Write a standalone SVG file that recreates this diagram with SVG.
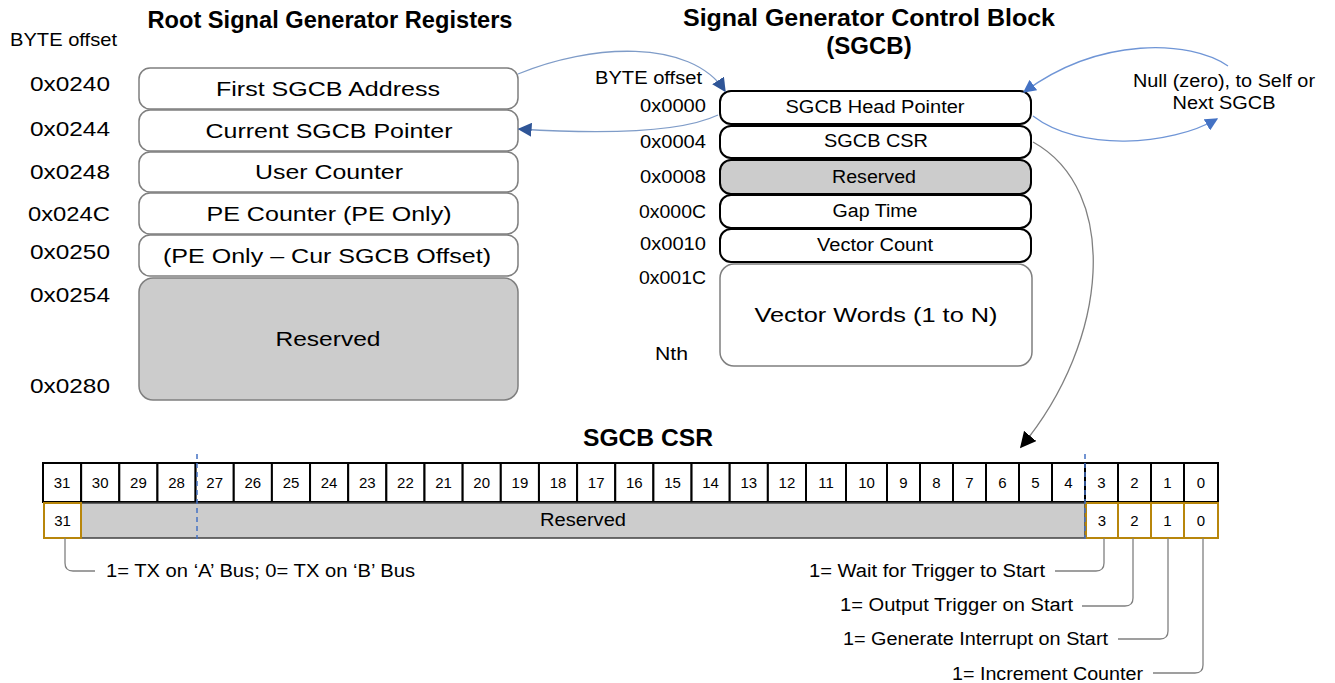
<svg xmlns="http://www.w3.org/2000/svg" width="1335" height="683" viewBox="0 0 1335 683">
<defs>
<style>
text{font-family:"Liberation Sans",Arial,sans-serif;fill:#000}
.t{font-size:24px;font-weight:bold;text-anchor:middle}
.off{font-size:21px}
.offr{font-size:18px;text-anchor:end}
.bx{font-size:21px;text-anchor:middle}
.sb{font-size:18px;text-anchor:middle}
.bn{font-size:15px;text-anchor:middle}
.lb{font-size:18px}
.lbr{font-size:18px;text-anchor:end}
.rl{fill:#fff;stroke:#7f7f7f;stroke-width:1.5}
.rlg{fill:#cccccc;stroke:#7f7f7f;stroke-width:1.5}
.rs{fill:#fff;stroke:#000;stroke-width:2}
.rsg{fill:#cccccc;stroke:#000;stroke-width:2}
.cell{fill:#fff;stroke:#000;stroke-width:2}
.gold{fill:#fff;stroke:#b8860b;stroke-width:2}
.lead{fill:none;stroke:#808080;stroke-width:1.3}
.blue1{fill:none;stroke:#7f9cc8;stroke-width:1.3}
.blue2{fill:none;stroke:#6f95d6;stroke-width:1.3}
.dash{stroke:#4472c4;stroke-width:1.5;stroke-dasharray:5,4}
</style>
<marker id="ahd" viewBox="0 0 10 10" refX="9" refY="5" markerWidth="14" markerHeight="14" markerUnits="userSpaceOnUse" orient="auto"><path d="M0,0 L10,5 L0,10 z" fill="#2f5597"/></marker>
<marker id="ahl" viewBox="0 0 10 10" refX="9" refY="5" markerWidth="13" markerHeight="13" markerUnits="userSpaceOnUse" orient="auto"><path d="M0,0 L10,5 L0,10 z" fill="#4472c4"/></marker>
<marker id="ahk" viewBox="0 0 10 10" refX="9" refY="5" markerWidth="16" markerHeight="16" markerUnits="userSpaceOnUse" orient="auto"><path d="M0,0 L10,5 L0,10 z" fill="#000"/></marker>
</defs>
<rect width="1335" height="683" fill="#fff"/>

<g id="titles">
<text class="t" x="330" y="28" textLength="365" lengthAdjust="spacingAndGlyphs">Root Signal Generator Registers</text>
<text class="t" x="869" y="26" textLength="372" lengthAdjust="spacingAndGlyphs">Signal Generator Control Block</text>
<text class="t" x="869" y="54">(SGCB)</text>
<text class="t" x="648" y="446" textLength="130" lengthAdjust="spacingAndGlyphs">SGCB CSR</text>
</g>

<g id="root-offsets">
<text class="off" x="10" y="46" style="font-size:19px" textLength="107" lengthAdjust="spacingAndGlyphs">BYTE offset</text>
<text class="off" x="30" y="91" textLength="80" lengthAdjust="spacingAndGlyphs">0x0240</text>
<text class="off" x="30" y="136" textLength="80" lengthAdjust="spacingAndGlyphs">0x0244</text>
<text class="off" x="30" y="179" textLength="80" lengthAdjust="spacingAndGlyphs">0x0248</text>
<text class="off" x="28" y="221" textLength="82" lengthAdjust="spacingAndGlyphs">0x024C</text>
<text class="off" x="30" y="259" textLength="80" lengthAdjust="spacingAndGlyphs">0x0250</text>
<text class="off" x="30" y="302" textLength="80" lengthAdjust="spacingAndGlyphs">0x0254</text>
<text class="off" x="30" y="393" textLength="80" lengthAdjust="spacingAndGlyphs">0x0280</text>
</g>

<g id="root-first">
<rect class="rl" x="139" y="68" width="379" height="41" rx="11"/>
<text class="bx" x="328" y="96" textLength="224" lengthAdjust="spacingAndGlyphs">First SGCB Address</text>
</g>
<g id="root-current">
<rect class="rl" x="139" y="110" width="379" height="41" rx="11"/>
<text class="bx" x="329" y="138" textLength="247" lengthAdjust="spacingAndGlyphs">Current SGCB Pointer</text>
</g>
<g id="root-user">
<rect class="rl" x="139" y="152" width="379" height="40" rx="11"/>
<text class="bx" x="329" y="179" textLength="148" lengthAdjust="spacingAndGlyphs">User Counter</text>
</g>
<g id="root-pe">
<rect class="rl" x="139" y="193" width="379" height="41" rx="11"/>
<text class="bx" x="329" y="221" textLength="245" lengthAdjust="spacingAndGlyphs">PE Counter (PE Only)</text>
</g>
<g id="root-peoff">
<rect class="rl" x="139" y="235" width="379" height="41" rx="11"/>
<text class="bx" x="327" y="263" textLength="328" lengthAdjust="spacingAndGlyphs">(PE Only – Cur SGCB Offset)</text>
</g>
<g id="root-reserved">
<rect class="rlg" x="139" y="278" width="379" height="122" rx="14"/>
<text class="bx" x="328" y="346" textLength="105" lengthAdjust="spacingAndGlyphs">Reserved</text>
</g>

<g id="sgcb-offsets">
<text class="offr" x="702" y="84" style="font-size:18px" textLength="107" lengthAdjust="spacingAndGlyphs">BYTE offset</text>
<text class="offr" x="706" y="112" textLength="66" lengthAdjust="spacingAndGlyphs">0x0000</text>
<text class="offr" x="706" y="148" textLength="66" lengthAdjust="spacingAndGlyphs">0x0004</text>
<text class="offr" x="706" y="183" textLength="66" lengthAdjust="spacingAndGlyphs">0x0008</text>
<text class="offr" x="706" y="218" textLength="67" lengthAdjust="spacingAndGlyphs">0x000C</text>
<text class="offr" x="706" y="250" textLength="66" lengthAdjust="spacingAndGlyphs">0x0010</text>
<text class="offr" x="706" y="284" textLength="67" lengthAdjust="spacingAndGlyphs">0x001C</text>
<text class="offr" x="688" y="360" textLength="33" lengthAdjust="spacingAndGlyphs">Nth</text>
</g>

<g id="sgcb-head">
<rect class="rs" x="720" y="91" width="311" height="33" rx="11"/>
<text class="sb" x="875" y="113" textLength="179" lengthAdjust="spacingAndGlyphs">SGCB Head Pointer</text>
</g>
<g id="sgcb-csr">
<rect class="rs" x="720" y="126" width="311" height="32" rx="11"/>
<text class="sb" x="876" y="147" textLength="104" lengthAdjust="spacingAndGlyphs">SGCB CSR</text>
</g>
<g id="sgcb-reserved">
<rect class="rsg" x="720" y="160" width="311" height="34" rx="11"/>
<text class="sb" x="874" y="183" textLength="84" lengthAdjust="spacingAndGlyphs">Reserved</text>
</g>
<g id="sgcb-gap">
<rect class="rs" x="720" y="195" width="311" height="33" rx="11"/>
<text class="sb" x="875" y="217" textLength="85" lengthAdjust="spacingAndGlyphs">Gap Time</text>
</g>
<g id="sgcb-count">
<rect class="rs" x="720" y="229" width="311" height="33" rx="11"/>
<text class="sb" x="875" y="251" textLength="116" lengthAdjust="spacingAndGlyphs">Vector Count</text>
</g>
<g id="sgcb-vectors">
<rect class="rl" x="720" y="264" width="312" height="102" rx="14"/>
<text class="sb" x="876" y="322" style="font-size:21px" textLength="243" lengthAdjust="spacingAndGlyphs">Vector Words (1 to N)</text>
</g>

<g id="null-label">
<text class="sb" x="1224" y="87" textLength="182" lengthAdjust="spacingAndGlyphs">Null (zero), to Self or</text>
<text class="sb" x="1224" y="109" textLength="103" lengthAdjust="spacingAndGlyphs">Next SGCB</text>
</g>

<g id="csr-table">
<g id="bits-row">
<rect class="cell" x="43" y="463" width="38.15" height="39"/><text class="bn" x="62.1" y="488">31</text>
<rect class="cell" x="81.15" y="463" width="38.15" height="39"/><text class="bn" x="100.2" y="488">30</text>
<rect class="cell" x="119.3" y="463" width="38.15" height="39"/><text class="bn" x="138.4" y="488">29</text>
<rect class="cell" x="157.45" y="463" width="38.15" height="39"/><text class="bn" x="176.5" y="488">28</text>
<rect class="cell" x="195.6" y="463" width="38.15" height="39"/><text class="bn" x="214.7" y="488">27</text>
<rect class="cell" x="233.75" y="463" width="38.15" height="39"/><text class="bn" x="252.8" y="488">26</text>
<rect class="cell" x="271.9" y="463" width="38.15" height="39"/><text class="bn" x="291" y="488">25</text>
<rect class="cell" x="310.05" y="463" width="38.15" height="39"/><text class="bn" x="329.1" y="488">24</text>
<rect class="cell" x="348.2" y="463" width="38.15" height="39"/><text class="bn" x="367.3" y="488">23</text>
<rect class="cell" x="386.35" y="463" width="38.15" height="39"/><text class="bn" x="405.4" y="488">22</text>
<rect class="cell" x="424.5" y="463" width="38.15" height="39"/><text class="bn" x="443.6" y="488">21</text>
<rect class="cell" x="462.65" y="463" width="38.15" height="39"/><text class="bn" x="481.7" y="488">20</text>
<rect class="cell" x="500.8" y="463" width="38.15" height="39"/><text class="bn" x="519.9" y="488">19</text>
<rect class="cell" x="538.95" y="463" width="38.15" height="39"/><text class="bn" x="558" y="488">18</text>
<rect class="cell" x="577.1" y="463" width="38.15" height="39"/><text class="bn" x="596.2" y="488">17</text>
<rect class="cell" x="615.25" y="463" width="38.15" height="39"/><text class="bn" x="634.3" y="488">16</text>
<rect class="cell" x="653.4" y="463" width="38.15" height="39"/><text class="bn" x="672.5" y="488">15</text>
<rect class="cell" x="691.55" y="463" width="38.15" height="39"/><text class="bn" x="710.6" y="488">14</text>
<rect class="cell" x="729.7" y="463" width="38.15" height="39"/><text class="bn" x="748.8" y="488">13</text>
<rect class="cell" x="767.85" y="463" width="38.15" height="39"/><text class="bn" x="786.9" y="488">12</text>
<rect class="cell" x="806" y="463" width="40" height="39"/><text class="bn" x="826" y="488">11</text>
<rect class="cell" x="846" y="463" width="41" height="39"/><text class="bn" x="866.5" y="488">10</text>
<rect class="cell" x="887" y="463" width="33" height="39"/><text class="bn" x="903.5" y="488">9</text>
<rect class="cell" x="920" y="463" width="33" height="39"/><text class="bn" x="936.5" y="488">8</text>
<rect class="cell" x="953" y="463" width="33" height="39"/><text class="bn" x="969.5" y="488">7</text>
<rect class="cell" x="986" y="463" width="33" height="39"/><text class="bn" x="1002.5" y="488">6</text>
<rect class="cell" x="1019" y="463" width="33" height="39"/><text class="bn" x="1035.5" y="488">5</text>
<rect class="cell" x="1052" y="463" width="33" height="39"/><text class="bn" x="1068.5" y="488">4</text>
<rect class="cell" x="1085" y="463" width="33" height="39"/><text class="bn" x="1101.5" y="488">3</text>
<rect class="cell" x="1118" y="463" width="33" height="39"/><text class="bn" x="1134.5" y="488">2</text>
<rect class="cell" x="1151" y="463" width="33" height="39"/><text class="bn" x="1167.5" y="488">1</text>
<rect class="cell" x="1184" y="463" width="34" height="39"/><text class="bn" x="1201" y="488">0</text>
</g>
<g id="fields-row">
<rect x="81" y="503" width="1004" height="35" fill="#cccccc" stroke="#404040" stroke-width="1.5"/>
<text class="bn" x="583" y="526" style="font-size:18px" textLength="86" lengthAdjust="spacingAndGlyphs">Reserved</text>
<rect class="gold" x="44" y="503" width="37" height="35"/><text class="bn" x="62.5" y="526">31</text>
<rect class="gold" x="1086" y="503" width="32" height="35"/><text class="bn" x="1102" y="526">3</text>
<rect class="gold" x="1118" y="503" width="33" height="35"/><text class="bn" x="1134.5" y="526">2</text>
<rect class="gold" x="1151" y="503" width="33" height="35"/><text class="bn" x="1167.5" y="526">1</text>
<rect class="gold" x="1184" y="503" width="34" height="35"/><text class="bn" x="1201" y="526">0</text>
</g>
<line class="dash" x1="197" y1="454" x2="197" y2="539"/>
<line class="dash" x1="1085" y1="454" x2="1085" y2="539"/>
</g>

<g id="bit-notes">
<text class="lb" x="106" y="577" textLength="309" lengthAdjust="spacingAndGlyphs">1= TX on ‘A’ Bus; 0= TX on ‘B’ Bus</text>
<text class="lbr" x="1045" y="577" textLength="236" lengthAdjust="spacingAndGlyphs">1= Wait for Trigger to Start</text>
<text class="lbr" x="1073" y="611" textLength="233" lengthAdjust="spacingAndGlyphs">1= Output Trigger on Start</text>
<text class="lbr" x="1108" y="645" textLength="265" lengthAdjust="spacingAndGlyphs">1= Generate Interrupt on Start</text>
<text class="lbr" x="1143" y="680" textLength="191" lengthAdjust="spacingAndGlyphs">1= Increment Counter</text>
</g>

<g id="connectors">
<path class="lead" d="M65,538 V563 Q65,571 73,571 H95"/>
<path class="lead" d="M1104,538 V563 Q1104,571 1096,571 H1055"/>
<path class="lead" d="M1133,538 V598 Q1133,606 1125,606 H1082"/>
<path class="lead" d="M1168,538 V631 Q1168,639 1160,639 H1118"/>
<path class="lead" d="M1203,538 V665 Q1203,673 1195,673 H1153"/>
<path class="blue1" d="M518,74 C590,44 690,38 725,91" marker-end="url(#ahd)"/>
<path class="blue1" d="M718,115 C680,133 600,134 519,129" marker-end="url(#ahd)"/>
<path class="blue2" d="M1228,66 C1190,40 1100,36 1024,92" marker-end="url(#ahl)"/>
<path class="blue2" d="M1033,116 C1080,152 1170,146 1217,119" marker-end="url(#ahl)"/>
<path fill="none" stroke="#808080" stroke-width="1.3" d="M1033,142 C1120,190 1110,340 1021,447" marker-end="url(#ahk)"/>
</g>
</svg>
